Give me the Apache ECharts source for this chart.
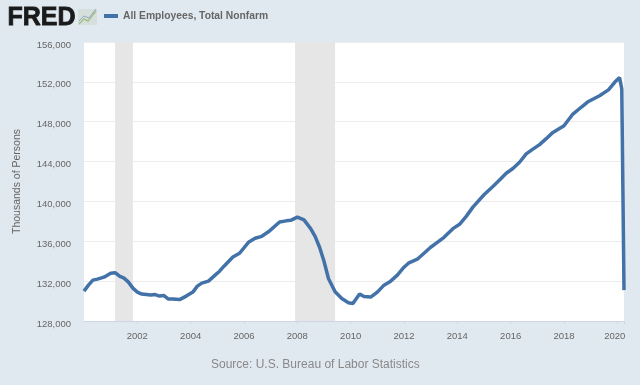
<!DOCTYPE html>
<html>
<head>
<meta charset="utf-8">
<title>All Employees, Total Nonfarm</title>
<style>
html, body { margin: 0; padding: 0; background: #e1e9f0; }
#chart { width: 640px; height: 385px; }
</style>
<script src="https://cdn.jsdelivr.net/npm/echarts@6/dist/echarts.min.js"></script>
</head>
<body>
<div id="chart"></div>
<script>
// values, thousands of persons
var months = ['2000-01','2000-03','2000-05','2000-07','2000-10','2001-01','2001-03','2001-05','2001-07','2001-09','2001-11',
  '2002-01','2002-03','2002-05','2002-07','2002-09','2002-11','2003-01','2003-03','2003-05','2003-08','2003-11',
  '2004-02','2004-04','2004-06','2004-09','2004-12','2005-02','2005-04','2005-08','2005-11','2006-03','2006-06','2006-09','2006-12',
  '2007-05','2007-08','2007-10','2008-01','2008-04','2008-07','2008-09','2008-11','2009-01','2009-03','2009-06','2009-09','2009-12',
  '2010-02','2010-05','2010-07','2010-10','2011-01','2011-04','2011-07','2011-10','2012-01','2012-03','2012-07','2012-10',
  '2013-01','2013-04','2013-07','2013-11','2014-02','2014-05','2014-08','2015-01','2015-05','2015-08','2015-11',
  '2016-02','2016-05','2016-08','2016-11','2017-02','2017-05','2017-08','2018-01','2018-05','2018-09','2018-12',
  '2019-05','2019-09','2019-12','2020-02','2020-03','2020-04'];
var employees = [131000,131600,132100,132200,132400,132800,132850,132500,132300,131900,131300,
  130900,130700,130650,130600,130650,130500,130550,130200,130200,130150,130500,
  130900,131500,131800,132000,132600,133000,133500,134430,134800,135900,136300,136500,136950,
  137930,138050,138100,138430,138150,137270,136500,135400,134000,132270,130930,130250,129830,
  129750,130700,130450,130400,130900,131600,132000,132600,133400,133800,134200,134800,
  135400,135900,136400,137270,137700,138500,139430,140670,141500,142150,142830,
  143300,143930,144770,145250,145700,146300,146930,147600,148770,149500,150030,
  150600,151200,152000,152430,151300,131100];
var recessions = [['2001-03','2001-11'],['2007-12','2009-06']];
var tickLabels = [2002,2004,2006,2008,2010,2012,2014,2016,2018,2020];

function toYear(m) {
  var p = m.split('-');
  return +p[0] + (+p[1] - 1) / 12;
}

var myChart = echarts.init(document.getElementById('chart'));
var fontName = '"Liberation Sans", Arial, sans-serif';

var option = {
  backgroundColor: '#e1e9f0',
  animation: false,
  textStyle: { fontFamily: fontName },
  legend: {
    left: 99,
    top: 6,
    icon: 'rect',
    itemWidth: 14,
    itemHeight: 4,
    itemGap: 5,
    textStyle: { fontSize: 10.3, fontWeight: 'bold', color: '#666', fontFamily: fontName },
    data: ['All Employees, Total Nonfarm']
  },
  grid: {
    left: 84,
    right: 16,
    top: 42,
    bottom: 64,
    show: true,
    backgroundColor: '#fff',
    borderWidth: 0
  },
  xAxis: {
    type: 'value',
    min: 2000,
    max: 2020.25,
    interval: 2,
    axisLine: { lineStyle: { color: '#ccd6eb' } },
    axisTick: { show: true, length: 3, lineStyle: { color: '#ccd6eb' } },
    splitLine: { show: false },
    axisLabel: {
      color: '#666',
      fontSize: 9.5,
      margin: 10,
      showMinLabel: false,
      formatter: function (v) {
        if (v === 2020) return '{last|2020}';
        return tickLabels.indexOf(v) >= 0 ? String(v) : '';
      },
      rich: {
        last: { color: '#666', fontSize: 9.5, padding: [0, 5, 0, 0] }
      }
    }
  },
  yAxis: {
    type: 'value',
    min: 128000,
    max: 156000,
    interval: 4000,
    name: 'Thousands of Persons',
    nameLocation: 'middle',
    nameGap: 61,
    nameTextStyle: { color: '#666', fontSize: 10.5 },
    axisLine: { show: false },
    axisTick: { show: false },
    splitLine: { lineStyle: { color: '#ececec' } },
    axisLabel: {
      color: '#666',
      fontSize: 9.5,
      margin: 13,
      verticalAlign: 'top',
      lineHeight: 6,
      formatter: function (v) { return echarts.format.addCommas(v); }
    }
  },
  series: [{
    name: 'All Employees, Total Nonfarm',
    type: 'line',
    showSymbol: false,
    smooth: false,
    color: '#4272a8',
    lineStyle: { width: 3.5, color: '#4272a8' },
    data: months.map(function (m, i) { return [toYear(m), employees[i]]; }),
    markArea: {
      silent: true,
      itemStyle: { color: '#e6e6e6' },
      data: recessions.map(function (r) {
        return [{ xAxis: toYear(r[0]) }, { xAxis: toYear(r[1]) }];
      })
    }
  }],
  graphic: [
    { type: 'text', left: 7, top: 5, style: { text: 'FRED', fontFamily: fontName, fontWeight: 'bold', fontSize: 25, fill: '#1a1a1a', stroke: '#1a1a1a', lineWidth: 0.8 } },
    { type: 'rect', shape: { x: 78, y: 9, width: 19, height: 16 }, style: { fill: '#d5dfdc' } },
    { type: 'polyline', shape: { points: [[79, 24], [84, 19], [88, 21], [96, 11]] }, style: { stroke: '#a9c08a', lineWidth: 1.5, fill: null } },
    { type: 'polyline', shape: { points: [[79, 21], [84, 16], [89, 18], [96, 9]] }, style: { stroke: '#8fa9c4', lineWidth: 1, fill: null } },
    { type: 'text', left: 211, top: 359, style: { text: 'Source: U.S. Bureau of Labor Statistics', fontFamily: fontName, fontSize: 12, fill: '#888' } }
  ]
};
myChart.setOption(option);
</script>
</body>
</html>
